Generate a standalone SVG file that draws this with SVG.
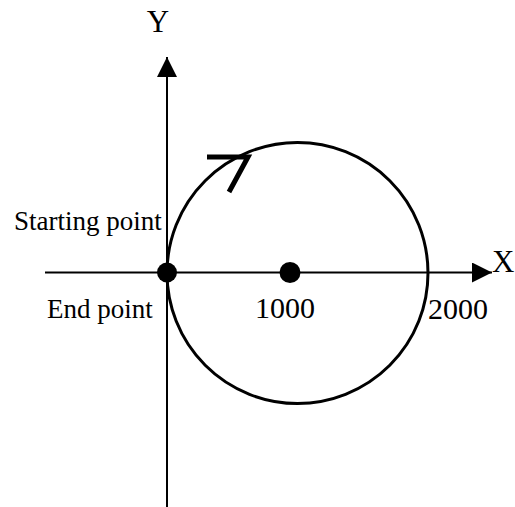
<svg xmlns="http://www.w3.org/2000/svg" width="515" height="507" viewBox="0 0 515 507">
<style>
.ax{stroke:#000;stroke-width:2;fill:none}
.c{stroke:#000;stroke-width:3;fill:none}
.t{font-family:"Liberation Serif","Times New Roman",serif;fill:#000}
.dot{fill:#000}
</style>
<defs>
<marker id="ah" markerWidth="20" markerHeight="20" viewBox="0 0 20 20" refX="20" refY="10" orient="auto" markerUnits="userSpaceOnUse">
<path d="M0,0 L20,10 L0,20 Z" fill="#000"/>
</marker>
</defs>
<rect width="515" height="507" fill="#fff"/>
<g id="connectors">
<line class="ax" x1="167" y1="507" x2="167" y2="57" marker-end="url(#ah)"/>
<line class="ax" x1="45" y1="272.5" x2="492" y2="272.5" marker-end="url(#ah)"/>
</g>
<g id="circle">
<circle class="c" cx="297.5" cy="273" r="130.5"/>
<path d="M207,157 H248 L229,192" stroke="#000" stroke-width="5" fill="none"/>
</g>
<g id="start-point">
<circle class="dot" cx="167" cy="272.5" r="10"/>
<text class="t" x="14" y="230" font-size="27">Starting point</text>
<text class="t" x="47" y="318" font-size="27">End point</text>
</g>
<g id="center-point">
<circle class="dot" cx="290" cy="272.5" r="10.5"/>
<text class="t" x="255" y="318" font-size="30">1000</text>
</g>
<g id="labels">
<text class="t" x="428" y="319" font-size="30">2000</text>
<text class="t" x="492" y="272" font-size="31">X</text>
<text class="t" x="158" y="32" font-size="31" text-anchor="middle">Y</text>
</g>
</svg>
